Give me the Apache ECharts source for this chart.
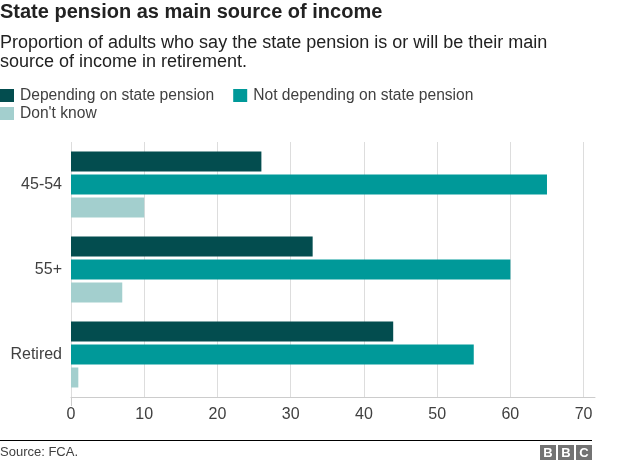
<!DOCTYPE html>
<html><head><meta charset="utf-8">
<script src="https://cdn.jsdelivr.net/npm/echarts@6/dist/echarts.min.js"></script>
<style>html,body{margin:0;padding:0;background:#fff}#c{width:624px;height:464px}</style>
</head><body><div id="c"></div>
<script>
const categories = ['45-54', '55+', 'Retired'];
const seriesNames = ['Depending on state pension', 'Not depending on state pension', "Don't know"];
const depending = [26, 33, 44];
const notDepending = [65, 60, 55];
const dontKnow = [10, 7, 1];
const xTicks = [0, 10, 20, 30, 40, 50, 60, 70];
const colors = ['#034d4f', '#009999', '#a3cfce'];

const FONT = 'Liberation Sans, Arial, sans-serif';
const chart = echarts.init(document.getElementById('c'), null, {renderer: 'canvas'});
const values = [depending, notDepending, dontKnow];

chart.setOption({
  animation: false,
  textStyle: {fontFamily: FONT},
  title: [
    {text: 'State pension as main source of income', left: 0, top: 2.5, padding: 0,
     textStyle: {fontSize: 20, fontWeight: 'bold', color: '#222', lineHeight: 20, fontFamily: FONT}},
    {text: 'Proportion of adults who say the state pension is or will be their main\nsource of income in retirement.', left: 0, top: 33.5, padding: 0,
     textStyle: {fontSize: 18, fontWeight: 'normal', color: '#222', lineHeight: 19, fontFamily: FONT}}
  ],
  legend: [
    {data: [seriesNames[0], seriesNames[1]], left: 0, top: 87.5, itemWidth: 14, itemHeight: 13, itemGap: 19,
     icon: 'rect', padding: 0, textStyle: {fontSize: 15.6, color: '#404040', fontFamily: FONT, padding: [0,0,0,1]}},
    {data: [seriesNames[2]], left: 0, top: 105.5, itemWidth: 14, itemHeight: 13,
     icon: 'rect', padding: 0, textStyle: {fontSize: 15.6, color: '#404040', fontFamily: FONT, padding: [0,0,0,1]}}
  ],
  grid: [
    {left: 71, right: 40.4, top: 142, height: 255, containLabel: false},
    {left: 71, right: 29, top: 142, height: 255, containLabel: false}
  ],
  xAxis: [
    {type: 'value', gridIndex: 0, min: xTicks[0], max: xTicks[xTicks.length - 1], interval: 10,
     axisLine: {show: false}, axisTick: {show: false},
     splitLine: {show: true, lineStyle: {color: '#dddddd', width: 1}},
     axisLabel: {fontSize: 16, color: '#404040', margin: 10, fontFamily: FONT}},
    {type: 'value', gridIndex: 1, min: 0, max: 71.6,
     axisLine: {show: true, lineStyle: {color: '#cccccc', width: 1}},
     axisTick: {show: true, customValues: [0], length: 9, lineStyle: {color: '#cccccc'}},
     axisLabel: {show: false}, splitLine: {show: false}}
  ],
  yAxis: [
    {type: 'category', gridIndex: 0, data: categories, inverse: true,
     axisLine: {show: false}, axisTick: {show: false},
     axisLabel: {fontSize: 16, color: '#404040', margin: 9, fontFamily: FONT}},
    {type: 'category', gridIndex: 1, data: categories, inverse: true, show: false}
  ],
  series: values.map((v, i) => ({
    name: seriesNames[i], type: 'bar', data: v, xAxisIndex: 0, yAxisIndex: 0,
    barWidth: 20, barGap: '15%', itemStyle: {color: colors[i]}
  })),
  graphic: [
    {type: 'line', shape: {x1: 0, y1: 440.5, x2: 592, y2: 440.5}, style: {stroke: '#000', lineWidth: 1}},
    {type: 'text', left: 0, top: 446, style: {text: 'Source: FCA.', fontSize: 13, fill: '#404040', fontFamily: FONT}},
    {type: 'group', left: 540, top: 445, children: ['B','B','C'].map((ch, i) => ({
      type: 'group', x: i * 18, children: [
        {type: 'rect', shape: {x: 0, y: 0, width: 16, height: 15}, style: {fill: '#737373'}},
        {type: 'text', x: 8, y: 8, style: {text: ch, fontSize: 13, fontWeight: 'bold', fill: '#fff', align: 'center', verticalAlign: 'middle', fontFamily: FONT}}
      ]}))}
  ]
});
</script></body></html>
